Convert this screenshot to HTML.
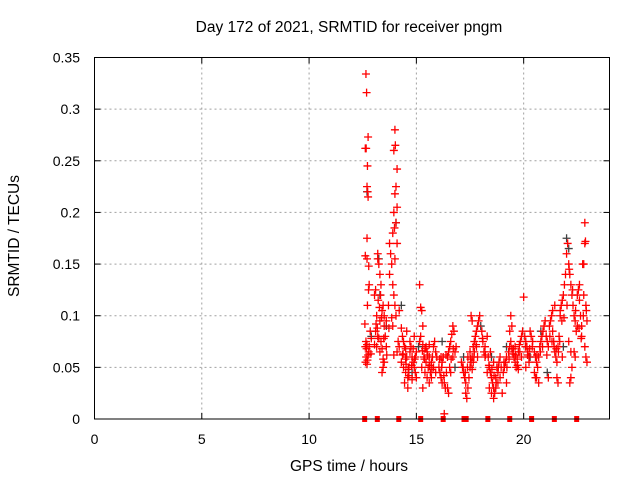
<!DOCTYPE html>
<html><head><meta charset="utf-8"><style>
html,body{margin:0;padding:0;background:#fff}
svg{display:block;font-family:"Liberation Sans",sans-serif}
</style></head><body>
<svg id="chart" width="640" height="480" xmlns="http://www.w3.org/2000/svg">
<rect width="640" height="480" fill="#fff"/>
<text x="349" y="32" font-size="15.5" text-anchor="middle">Day 172 of 2021, SRMTID for receiver pngm</text>
<text x="349" y="471" font-size="15.5" text-anchor="middle">GPS time / hours</text>
<text transform="translate(19,236) rotate(-90)" font-size="15.5" text-anchor="middle">SRMTID / TECUs</text>
<g id="grid"></g>
<g id="ticks"></g>
<g id="gray"></g>
<g id="red"></g>
<g id="gaps"></g>
<rect x="94.5" y="57.5" width="515" height="361.5" fill="none" stroke="#000" stroke-width="1"/>
</svg>
<script>
const xTicks=[0,5,10,15,20];
const yTicks=[0,0.05,0.1,0.15,0.2,0.25,0.3,0.35];
const yTickLabels=["0","0.05","0.1","0.15","0.2","0.25","0.3","0.35"];
const redT=[12.65,12.68,12.75,12.62,12.66,12.72,12.7,12.73,12.75,12.7,12.62,12.7,12.78,12.8,12.77,12.72,12.6,12.65,12.7,12.62,12.68,12.78,12.66,12.72,12.7,12.85,12.9,12.8,12.75,12.63,12.88,
13.05,13.1,13.2,13.2,13.3,13.35,13.25,13.4,13.45,13.5,13.15,13.3,13.1,13.2,13.25,13.35,13.4,13.3,13.45,13.5,13.15,13.4,13.45,13.6,13.55,13.05,13.12,13.22,13.33,13.5,13.6,13.7,13.75,13.8,13.75,13.85,13.9,13.95,13.95,14.0,14.02,14.1,14.05,14.0,14.1,14.05,13.98,14.1,14.0,13.9,13.95,14.0,14.05,13.85,13.9,14.15,14.1,13.95,14.2,14.2,
14.3,14.35,14.4,14.45,14.5,14.55,14.3,14.4,14.5,14.6,14.65,14.7,14.75,14.8,14.85,14.9,14.95,15.0,14.45,14.6,14.7,14.85,14.9,14.35,14.5,14.65,14.8,14.95,15.0,14.55,
15.15,15.2,15.25,15.3,15.2,15.15,15.3,15.4,15.5,15.6,15.35,15.45,15.55,15.65,15.25,15.4,15.5,15.6,15.7,15.75,15.8,15.85,15.9,15.95,15.3,15.6,15.7,15.8,15.9,15.45,
16.05,16.1,16.15,16.2,16.25,16.3,16.35,16.4,16.45,16.5,16.55,16.6,16.65,16.7,16.75,16.55,16.6,16.7,16.8,16.85,16.3,16.5,16.2,16.45,16.15,
17.1,17.15,17.2,17.25,17.3,17.3,17.35,17.4,17.45,17.5,17.55,17.6,17.65,17.7,17.75,17.8,17.85,17.7,17.6,17.5,17.4,17.55,17.6,17.8,17.9,17.95,17.85,17.65,
18.05,18.1,18.15,18.2,18.3,18.35,18.4,18.45,18.5,18.55,18.6,18.65,18.7,18.75,18.8,18.85,18.9,18.95,18.4,18.5,18.6,18.7,18.3,18.6,18.8,18.2,18.45,18.9,
19.05,19.1,19.15,19.2,19.3,19.35,19.4,19.45,19.5,19.55,19.6,19.65,19.7,19.75,19.8,19.85,19.9,19.95,19.4,19.45,19.35,19.2,19.0,19.6,19.75,19.9,
20.0,20.05,20.1,20.15,20.2,20.25,20.3,20.35,20.4,20.5,20.55,20.6,20.65,20.7,20.75,20.8,20.85,20.9,20.95,20.5,20.55,20.6,20.7,20.25,20.1,21.0,
21.05,21.1,21.15,21.2,21.25,21.3,21.35,21.4,21.45,21.5,21.55,21.6,21.65,21.7,21.75,21.8,21.85,21.9,21.55,21.6,21.7,21.8,21.15,21.35,21.45,21.95,
22.0,22.05,22.1,22.15,22.2,22.25,22.3,22.35,22.4,22.45,22.5,22.1,22.2,22.25,22.15,22.2,22.35,22.4,22.5,22.55,22.6,22.65,22.7,22.75,22.8,22.85,22.85,22.88,22.8,22.9,22.95,22.85,22.9,22.95,22.7,22.6,
13.28,13.38,13.18,13.48,13.62,13.72,14.38,14.52,14.62,14.78,14.92,15.28,15.38,15.52,15.62,15.72,16.08,16.18,16.28,16.38,16.62,16.72,17.18,17.28,17.38,17.52,17.68,17.78,18.08,18.22,18.38,18.52,18.62,18.72,18.82,19.08,19.22,19.32,19.52,19.62,19.72,19.82,20.08,20.18,20.28,20.42,20.62,20.78,20.88,21.08,21.22,21.32,21.42,21.52,21.62,21.68,21.78,21.88,22.02,22.12,22.28,22.42,22.58,22.68,22.78,22.92];
const redV=[0.334,0.316,0.273,0.262,0.262,0.245,0.225,0.22,0.215,0.175,0.158,0.155,0.148,0.13,0.125,0.11,0.092,0.075,0.072,0.07,0.068,0.065,0.06,0.057,0.053,0.085,0.078,0.07,0.062,0.055,0.063,
0.12,0.125,0.16,0.155,0.14,0.13,0.15,0.105,0.11,0.09,0.1,0.095,0.085,0.08,0.078,0.075,0.068,0.065,0.058,0.055,0.07,0.045,0.05,0.07,0.08,0.072,0.092,0.115,0.12,0.1,0.095,0.11,0.14,0.16,0.17,0.15,0.18,0.2,0.26,0.28,0.265,0.242,0.225,0.218,0.205,0.19,0.185,0.17,0.155,0.13,0.12,0.11,0.1,0.098,0.09,0.075,0.065,0.062,0.105,0.07,
0.088,0.08,0.075,0.07,0.068,0.06,0.055,0.05,0.045,0.04,0.05,0.065,0.07,0.06,0.055,0.05,0.045,0.04,0.035,0.03,0.075,0.068,0.08,0.062,0.058,0.042,0.038,0.06,0.065,0.085,
0.13,0.108,0.105,0.09,0.08,0.075,0.072,0.068,0.065,0.06,0.06,0.055,0.05,0.045,0.05,0.045,0.04,0.035,0.055,0.06,0.07,0.075,0.065,0.06,0.03,0.072,0.04,0.05,0.045,0.07,
0.05,0.045,0.04,0.055,0.06,0.035,0.03,0.045,0.06,0.065,0.07,0.075,0.082,0.09,0.085,0.05,0.045,0.06,0.065,0.07,0.005,0.025,0.035,0.03,0.06,
0.055,0.05,0.045,0.04,0.035,0.025,0.02,0.03,0.04,0.05,0.055,0.06,0.07,0.075,0.08,0.085,0.09,0.065,0.048,0.065,0.06,0.1,0.095,0.07,0.095,0.1,0.06,0.055,
0.085,0.075,0.065,0.07,0.08,0.06,0.05,0.045,0.04,0.035,0.03,0.025,0.04,0.05,0.045,0.055,0.06,0.05,0.03,0.025,0.02,0.03,0.045,0.055,0.035,0.06,0.065,0.04,
0.045,0.05,0.055,0.06,0.065,0.07,0.075,0.068,0.063,0.06,0.055,0.05,0.058,0.065,0.072,0.075,0.08,0.085,0.1,0.09,0.085,0.035,0.025,0.07,0.048,0.06,
0.118,0.08,0.075,0.07,0.065,0.06,0.085,0.08,0.07,0.065,0.06,0.055,0.05,0.06,0.07,0.075,0.08,0.085,0.09,0.045,0.04,0.04,0.035,0.055,0.05,0.095,
0.08,0.075,0.07,0.09,0.095,0.1,0.085,0.075,0.065,0.06,0.055,0.07,0.08,0.1,0.11,0.115,0.12,0.13,0.04,0.035,0.105,0.06,0.04,0.105,0.11,0.14,
0.16,0.17,0.15,0.14,0.13,0.12,0.11,0.1,0.095,0.085,0.09,0.075,0.065,0.05,0.035,0.04,0.065,0.06,0.12,0.125,0.13,0.1,0.09,0.15,0.15,0.19,0.17,0.172,0.12,0.11,0.095,0.07,0.06,0.055,0.08,0.115,
0.108,0.098,0.088,0.078,0.062,0.088,0.063,0.053,0.048,0.052,0.058,0.066,0.058,0.062,0.052,0.048,0.058,0.05,0.042,0.062,0.058,0.068,0.05,0.045,0.05,0.058,0.06,0.072,0.078,0.062,0.052,0.048,0.042,0.035,0.05,0.055,0.05,0.058,0.068,0.062,0.052,0.065,0.07,0.062,0.068,0.075,0.062,0.065,0.07,0.062,0.08,0.075,0.07,0.068,0.065,0.075,0.095,0.098,0.11,0.145,0.125,0.105,0.088,0.078,0.1,0.105,0.098];
const grayT=[12.7,12.9,13.3,14.05,14.3,15.1,16.2,17.2,18.0,19.2,20.3,21.1,22.0,22.1,21.85,18.5,16.8,13.6,14.8,13.25,20.8];
const grayV=[0.22,0.08,0.12,0.19,0.11,0.07,0.075,0.06,0.09,0.07,0.06,0.045,0.175,0.165,0.07,0.06,0.05,0.09,0.045,0.155,0.085];
const gapT=[12.59,13.18,14.18,15.2,16.25,17.22,17.32,18.33,19.35,20.37,21.43,22.47];

const X0=94.5,X1=609.5,Y0=419,Y1=57.5,XMAX=24,YMAX=0.35;
const sx=v=>X0+v/XMAX*(X1-X0);
const sy=v=>Y0-v/YMAX*(Y0-Y1);
const NS="http://www.w3.org/2000/svg";
function mk(tag,attrs,parent){const e=document.createElementNS(NS,tag);for(const k in attrs)e.setAttribute(k,attrs[k]);parent.appendChild(e);return e;}
const grid=document.getElementById('grid'),ticks=document.getElementById('ticks');
xTicks.forEach(t=>{
  const x=sx(t);
  if(t>0){const g=mk('line',{x1:x,x2:x,y1:Y1,y2:Y0,stroke:'#a0a0a0','stroke-dasharray':'2,3'},grid);
  
  }
  const l=mk('text',{x:x,y:444,'font-size':14,'text-anchor':'middle'},ticks);l.textContent=t;
  
  
  mk('line',{x1:x,x2:x,y1:Y0,y2:Y0-6,stroke:'#000'},ticks);
  mk('line',{x1:x,x2:x,y1:Y1,y2:Y1+6,stroke:'#000'},ticks);
});
yTicks.forEach((t,i)=>{
  const y=sy(t);
  if(t>0&&t<YMAX){const g=mk('line',{x1:X0,x2:X1,y1:y,y2:y,stroke:'#a0a0a0','stroke-dasharray':'2,3'},grid);
  
  }
  const l=mk('text',{x:80,y:y+5,'font-size':14,'text-anchor':'end'},ticks);l.textContent=yTickLabels[i];
  
  
  mk('line',{x1:X0,x2:X0+6,y1:y,y2:y,stroke:'#000'},ticks);
  mk('line',{x1:X1,x2:X1-6,y1:y,y2:y,stroke:'#000'},ticks);
});
function plus(g,x,y,c){const p=mk('path',{d:`M${x-4},${y}H${x+4}M${x},${y-4}V${y+4}`,stroke:c,'stroke-width':1.3,fill:'none'},g);return p;}
const gg=document.getElementById('gray');
grayT.forEach((t,i)=>{const p=plus(gg,sx(t),sy(grayV[i]),'#404040');
  
  });
const rg=document.getElementById('red');
redT.forEach((t,i)=>{const p=plus(rg,sx(t),sy(redV[i]),'#ff0000');
  
  });
const gp=document.getElementById('gaps');
gapT.forEach(t=>{const r=mk('rect',{x:sx(t)-2.5,y:Y0-3,width:5,height:6,fill:'#ff0000'},gp);
  
  });
</script>
</body></html>
